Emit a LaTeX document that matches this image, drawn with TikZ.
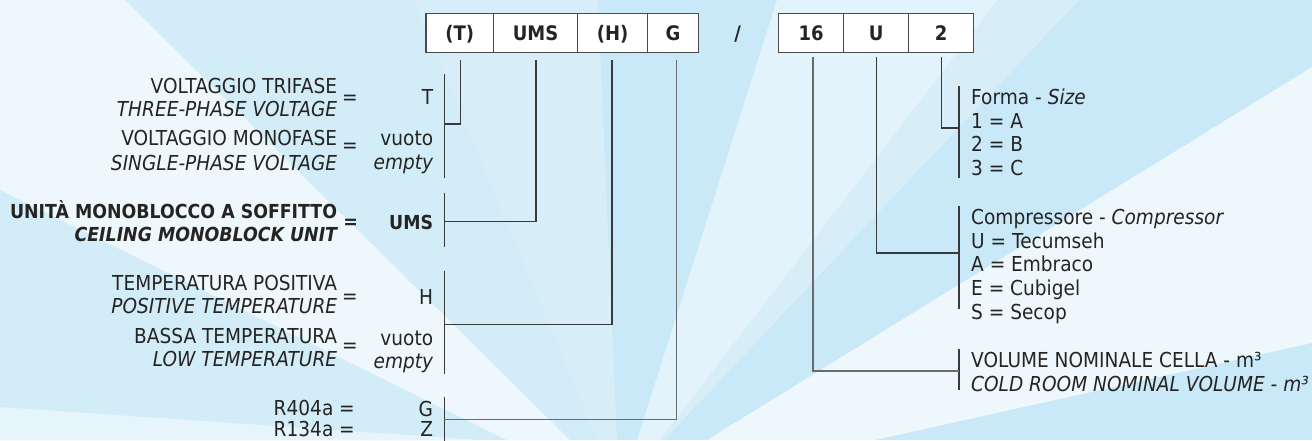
\documentclass[tikz,border=0pt]{standalone}
\usepackage{fontspec}
\setmainfont{DejaVu Sans}[FakeStretch=0.9]
\definecolor{ink}{HTML}{252423}
\definecolor{linec}{HTML}{3A3A3A}
\definecolor{linec2}{HTML}{6A6A6A}
\definecolor{boxc}{HTML}{4A4A4A}
\definecolor{bgbase}{HTML}{C9E8F8}
\definecolor{bglight}{HTML}{D2ECF8}
\definecolor{bglight2}{HTML}{D7EEF9}
\definecolor{bgwhite}{HTML}{EEF8FC}
\definecolor{bgwhite2}{HTML}{E2F3FB}
\definecolor{bgwhite3}{HTML}{E6F4FB}
\tikzset{
  lab/.style={inner sep=0pt, font=\fontsize{20.6}{24}\selectfont, text=ink},
  labb/.style={inner sep=0pt, font=\bfseries\fontsize{19.3}{24}\selectfont, text=ink},
  cell/.style={draw=boxc, fill=white, line width=1.2pt, minimum height=39.4pt,
    inner sep=0pt, text height=14.6pt, text depth=0pt,
    font=\bfseries\fontsize{20}{24}\selectfont, text=ink},
  conn/.style={draw=linec, line width=1.2pt},
  conn2/.style={draw=linec2, line width=1.2pt},
}
\begin{document}
\begin{tikzpicture}[x=1pt,y=-1pt]
\useasboundingbox (0,0) rectangle (1312,440);
% background sunburst
\begin{scope}
\clip (0,0) rectangle (1312,440);
\fill[bgbase] (0,0) rectangle (1312,440);
\fill[bglight] (0,0) -- (413,0) -- (597,440) -- (0,440) -- cycle;
\fill[bglight2] (413,0) -- (598,0) -- (617,440) -- (597,440) -- cycle;
\fill[bgwhite] (0,0) -- (125,0) -- (570,440) -- (507,440) -- (0,190) -- cycle;
\fill[bgwhite3] (0,407) -- (480,440) -- (0,440) -- cycle;
\fill[bgwhite2] (777,0) -- (998,0) -- (660,440) -- (637,440) -- cycle;
\fill[bglight2] (998,0) -- (1079,0) -- (664,440) -- (660,440) -- cycle;
\fill[bgwhite] (1312,67) -- (1312,343) -- (875,440) -- (707,440) -- cycle;
\end{scope}

% code boxes
\node[cell, minimum width=67.3pt] (cT) at (459.7,33) {(T)};
\node[cell, minimum width=84.4pt] (cU) at (535.5,33) {UMS};
\node[cell, minimum width=70pt] (cH) at (612.7,33) {(H)};
\node[cell, minimum width=50.6pt] (cG) at (673,33) {G};
\node[inner sep=0pt, text height=14.6pt, text depth=0pt, font=\bfseries\fontsize{20}{24}\selectfont, text=ink] (sl) at (737.7,33) {/};
\node[cell, minimum width=65pt] (c16) at (811.2,33) {16};
\node[cell, minimum width=65pt] (cUu) at (876.2,33) {U};
\node[cell, minimum width=65pt] (c2) at (941.2,33) {2};

% bracket coordinates
\coordinate (kT) at (444.3,124);
\coordinate (kU) at (444.3,221.7);
\coordinate (kH) at (444.3,324.3);
\coordinate (kG) at (444.3,419.3);
\coordinate (k2) at (959,128);
\coordinate (kUu) at (959,253);
\coordinate (k16) at (959,371);
\coordinate (b1a) at (444.3,74);   \coordinate (b1b) at (444.3,178.3);
\coordinate (b2a) at (444.3,192.7); \coordinate (b2b) at (444.3,247.3);
\coordinate (b3a) at (444.3,270.7); \coordinate (b3b) at (444.3,374);
\coordinate (b4a) at (444.3,396.7); \coordinate (b4b) at (444.3,445);
\coordinate (r1a) at (959,86);     \coordinate (r1b) at (959,178.3);
\coordinate (r2a) at (959,205.7);  \coordinate (r2b) at (959,309.3);
\coordinate (r3a) at (959,349);    \coordinate (r3b) at (959,390);

\draw[conn] (b1a) -- (b1b);
\draw[conn] (b2a) -- (b2b);
\draw[conn] (b3a) -- (b3b);
\draw[conn] (b4a) -- (b4b);
\draw[conn] (r1a) -- (r1b);
\draw[conn] (r2a) -- (r2b);
\draw[conn] (r3a) -- (r3b);

% connectors
\draw[conn] ([xshift=0.6pt,yshift=-6.6pt]cT.south) |- (kT);
\draw[conn] ([xshift=0.5pt,yshift=-6.6pt]cU.south) |- (kU);
\draw[conn] ([xshift=-0.7pt,yshift=-6.6pt]cH.south) |- (kH);
\draw[conn2] ([xshift=3.7pt,yshift=-6.6pt]cG.south) |- (kG);
\draw[conn2] ([xshift=1.8pt,yshift=-4pt]c16.south) |- (k16);
\draw[conn] ([yshift=-4pt]cUu.south) |- (kUu);
\draw[conn] ([yshift=-4pt]c2.south) |- (k2);

% left descriptions
\node[lab, anchor=base east] (l1a) at (337.3,93.3) {VOLTAGGIO TRIFASE};
\node[lab, anchor=base east] (l1b) at (337.3,116.7) {\itshape THREE-PHASE VOLTAGE};
\node[lab, anchor=base east] (l2a) at (337.3,145.7) {VOLTAGGIO MONOFASE};
\node[lab, anchor=base east] (l2b) at (337.3,170) {\itshape SINGLE-PHASE VOLTAGE};
\node[labb, anchor=base east] (l3a) at (337.3,218.3) {UNITÀ MONOBLOCCO A SOFFITTO};
\node[labb, anchor=base east] (l3b) at (337.3,241.7) {\itshape CEILING MONOBLOCK UNIT};
\node[lab, anchor=base east] (l4a) at (337.3,290) {TEMPERATURA POSITIVA};
\node[lab, anchor=base east] (l4b) at (337.3,313.3) {\itshape POSITIVE TEMPERATURE};
\node[lab, anchor=base east] (l5a) at (337.3,343.3) {BASSA TEMPERATURA};
\node[lab, anchor=base east] (l5b) at (337.3,366.7) {\itshape LOW TEMPERATURE};
\node[lab, anchor=base east] (l6a) at (355,415) {R404a =};
\node[lab, anchor=base east] (l6b) at (355,436.6) {R134a =};

% equals signs
\node[lab, anchor=base] (e1) at (350,104.3) {=};
\node[lab, anchor=base] (e2) at (350,152) {=};
\node[labb, anchor=base] (e3) at (350.7,228.7) {=};
\node[lab, anchor=base] (e4) at (350,303.7) {=};
\node[lab, anchor=base] (e5) at (350,352) {=};

% values
\node[lab, anchor=base east] (v1) at (433.3,104) {T};
\node[lab, anchor=base east] (v2a) at (433.3,145.7) {vuoto};
\node[lab, anchor=base east] (v2b) at (433.3,169) {\itshape empty};
\node[labb, anchor=base east] (v3) at (433.3,229.3) {UMS};
\node[lab, anchor=base east] (v4) at (433.3,304) {H};
\node[lab, anchor=base east] (v5a) at (433.3,345.5) {vuoto};
\node[lab, anchor=base east] (v5b) at (433.3,368.5) {\itshape empty};
\node[lab, anchor=base east] (v6a) at (433.3,416) {G};
\node[lab, anchor=base east] (v6b) at (433.3,436.6) {Z};

% right descriptions
\node[lab, anchor=base west] (t1) at (971,104) {Forma - \textit{Size}};
\node[lab, anchor=base west] (t2) at (971,128.3) {1 = A};
\node[lab, anchor=base west] (t3) at (971,151.7) {2 = B};
\node[lab, anchor=base west] (t4) at (971,175.7) {3 = C};
\node[lab, anchor=base west] (t5) at (971,224) {Compressore - \textit{Compressor}};
\node[lab, anchor=base west] (t6) at (971,248.3) {U = Tecumseh};
\node[lab, anchor=base west] (t7) at (971,271.7) {A = Embraco};
\node[lab, anchor=base west] (t8) at (971,295.7) {E = Cubigel};
\node[lab, anchor=base west] (t9) at (971,319.3) {S = Secop};
\node[lab, anchor=base west] (t10) at (971,367.7) {VOLUME NOMINALE CELLA - m³};
\node[lab, anchor=base west] (t11) at (971,391) {\itshape COLD ROOM NOMINAL VOLUME - m³};
\end{tikzpicture}
\end{document}
